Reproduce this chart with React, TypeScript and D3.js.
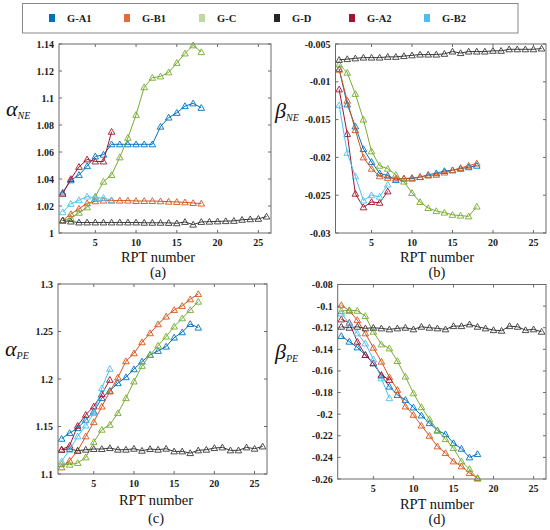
import React from 'react';
import * as d3 from 'd3';

// ---------- data ----------
const RPT = [1, 2, 3, 4, 5, 6, 7, 8, 9, 10, 11, 12, 13, 14, 15, 16, 17, 18, 19, 20, 21, 22, 23, 24, 25, 26];
const SERIES_NAMES = ['G-A1', 'G-B1', 'G-C', 'G-D', 'G-A2', 'G-B2'];
const LINE_COLORS = ['#0072BD', '#D95319', '#77AC30', '#3a3a3a', '#A2142F', '#4DBEEE'];
const LEGEND_COLORS = ['#0072BD', '#E36C3A', '#BCDBA0', '#262626', '#A2142F', '#4DBEEE'];
const X_TICKS = [5, 10, 15, 20, 25];

// (a) alpha_NE
const aNE_A1 = [1.030, 1.039, 1.043, 1.0495, 1.0567, 1.058, 1.0657, 1.0657, 1.0657, 1.0657, 1.0657, 1.0657, 1.0788, 1.0855, 1.089, 1.094, 1.096, 1.0927];
const aNE_B1 = [1.0094, 1.014, 1.018, 1.022, 1.0235, 1.024, 1.024, 1.024, 1.024, 1.0237, 1.0237, 1.0237, 1.0235, 1.0232, 1.023, 1.0227, 1.0222, 1.0218];
const aNE_C = [1.0094, 1.011, 1.015, 1.019, 1.027, 1.038, 1.043, 1.056, 1.0705, 1.0875, 1.108, 1.115, 1.116, 1.119, 1.126, 1.133, 1.139, 1.134];
const aNE_D = [1.0092, 1.0085, 1.0078, 1.0078, 1.0078, 1.0078, 1.0078, 1.0078, 1.0078, 1.0078, 1.0076, 1.0076, 1.0076, 1.0075, 1.0072, 1.0082, 1.0062, 1.0082, 1.0084, 1.0086, 1.0088, 1.009, 1.0098, 1.0102, 1.0105, 1.0122];
const aNE_A2 = [1.029, 1.040, 1.049, 1.0545, 1.053, 1.053, 1.075];
const aNE_B2 = [1.0154, 1.0216, 1.0243, 1.027, 1.026, 1.026, 1.0243];

// (b) beta_NE
const bNE_A1 = [-0.0083, -0.0130, -0.0159, -0.0189, -0.0206, -0.0221, -0.0224, -0.0230, -0.0228, -0.0228, -0.0226, -0.0223, -0.0221, -0.0218, -0.0217, -0.0215, -0.0213, -0.0211];
const bNE_B1 = [-0.0084, -0.0125, -0.0164, -0.0200, -0.0215, -0.0225, -0.0227, -0.0228, -0.0228, -0.0227, -0.0226, -0.0224, -0.0223, -0.0220, -0.0217, -0.0214, -0.0211, -0.0208];
const bNE_C = [-0.0077, -0.0088, -0.0116, -0.0150, -0.0192, -0.0211, -0.0215, -0.0223, -0.0232, -0.0247, -0.0259, -0.0267, -0.0271, -0.0273, -0.0276, -0.0277, -0.0278, -0.0265];
const bNE_D = [-0.0071, -0.0070, -0.0069, -0.0068, -0.0068, -0.0068, -0.0067, -0.0067, -0.0066, -0.0065, -0.0064, -0.0064, -0.0064, -0.0063, -0.0060, -0.0062, -0.0060, -0.0060, -0.0060, -0.0059, -0.0059, -0.0057, -0.0057, -0.0057, -0.0057, -0.0056];
const bNE_A2 = [-0.0110, -0.0169, -0.0248, -0.0266, -0.0259, -0.0260, -0.0245];
const bNE_B2 = [-0.0131, -0.0194, -0.0225, -0.0257, -0.0250, -0.0252, -0.0236];

// (c) alpha_PE
const aPE_A1 = [1.1371, 1.1431, 1.1483, 1.1571, 1.1658, 1.1799, 1.1876, 1.1956, 1.2019, 1.2103, 1.2184, 1.2254, 1.2296, 1.2341, 1.2436, 1.2492, 1.2579, 1.2541];
const aPE_B1 = [1.107, 1.114, 1.1245, 1.1396, 1.1546, 1.171, 1.1869, 1.2016, 1.2187, 1.2271, 1.2387, 1.2482, 1.2576, 1.2657, 1.2727, 1.2769, 1.2839, 1.2895];
const aPE_C = [1.1105, 1.1098, 1.1116, 1.1175, 1.1336, 1.1466, 1.1518, 1.1641, 1.1799, 1.1974, 1.2138, 1.2254, 1.2352, 1.2447, 1.2552, 1.2639, 1.2727, 1.2814];
const aPE_D = [1.1256, 1.1263, 1.1245, 1.1256, 1.1263, 1.1263, 1.1273, 1.1256, 1.1256, 1.1266, 1.1245, 1.1263, 1.1256, 1.1266, 1.1238, 1.1238, 1.122, 1.1249, 1.1256, 1.1273, 1.128, 1.1249, 1.1249, 1.128, 1.1266, 1.129];
const aPE_A2 = [1.1256, 1.1298, 1.1508, 1.1623, 1.1711, 1.1841, 1.1991];
const aPE_B2 = [1.1133, 1.1256, 1.1396, 1.1511, 1.1641, 1.1904, 1.2107];

// (d) beta_PE
const bPE_A1 = [-0.1277, -0.1329, -0.1382, -0.1452, -0.1529, -0.1643, -0.1745, -0.1822, -0.1868, -0.1938, -0.2012, -0.2083, -0.2151, -0.2185, -0.2268, -0.232, -0.24, -0.2369];
const bPE_B1 = [-0.0991, -0.1043, -0.1129, -0.1252, -0.1385, -0.1514, -0.1658, -0.1775, -0.1929, -0.2006, -0.2105, -0.22, -0.2298, -0.236, -0.2437, -0.2483, -0.2545, -0.2591];
const bPE_C = [-0.1046, -0.1037, -0.1043, -0.1092, -0.1237, -0.1354, -0.1391, -0.1508, -0.1652, -0.1806, -0.1935, -0.2046, -0.2151, -0.2231, -0.2314, -0.2437, -0.2508, -0.2597];
const bPE_D = [-0.1191, -0.12, -0.1191, -0.1206, -0.12, -0.1206, -0.1215, -0.1206, -0.12, -0.1215, -0.1191, -0.12, -0.1206, -0.1215, -0.1185, -0.1185, -0.1169, -0.1191, -0.1206, -0.1222, -0.1228, -0.1185, -0.1191, -0.1222, -0.1215, -0.1237];
const bPE_A2 = [-0.1123, -0.1154, -0.1329, -0.1452, -0.1529, -0.1637, -0.1683];
const bPE_B2 = [-0.1068, -0.116, -0.1252, -0.1345, -0.1492, -0.1668, -0.1852];

const aNE_TICKS = [1, 1.02, 1.04, 1.06, 1.08, 1.1, 1.12, 1.14];
const aNE_LABELS = ['1', '1.02', '1.04', '1.06', '1.08', '1.1', '1.12', '1.14'];
const bNE_TICKS = [-0.03, -0.025, -0.02, -0.015, -0.01, -0.005];
const bNE_LABELS = ['-0.03', '-0.025', '-0.02', '-0.015', '-0.01', '-0.005'];
const aPE_TICKS = [1.1, 1.15, 1.2, 1.25, 1.3];
const aPE_LABELS = ['1.1', '1.15', '1.2', '1.25', '1.3'];
const bPE_TICKS = [-0.26, -0.24, -0.22, -0.2, -0.18, -0.16, -0.14, -0.12, -0.1, -0.08];
const bPE_LABELS = ['-0.26', '-0.24', '-0.22', '-0.2', '-0.18', '-0.16', '-0.14', '-0.12', '-0.1', '-0.08'];

// ---------- layout ----------
const FONT = "'Liberation Serif', 'Liberation Sans', Arial, sans-serif";
const AXIS_COLOR = '#6a6a6a';

type PanelDef = {
  left: number; right: number; top: number; bottom: number;
  yDomain: [number, number]; yTicks: number[]; yLabels: string[];
  series: number[][]; sym: string; sub: string; symX: number; symY: number;
  caption: string; capX: number; xLabelY: number; capY: number;
};

const PANELS: PanelDef[] = [
  { left: 59, right: 271, top: 44, bottom: 233, yDomain: [1, 1.14], yTicks: aNE_TICKS, yLabels: aNE_LABELS,
    series: [aNE_A1, aNE_B1, aNE_C, aNE_D, aNE_A2, aNE_B2], sym: 'α', sub: 'NE', symX: 6, symY: 116,
    caption: '(a)', capX: 158, xLabelY: 262, capY: 277 },
  { left: 335.5, right: 546, top: 44, bottom: 233, yDomain: [-0.03, -0.005], yTicks: bNE_TICKS, yLabels: bNE_LABELS,
    series: [bNE_A1, bNE_B1, bNE_C, bNE_D, bNE_A2, bNE_B2], sym: 'β', sub: 'NE', symX: 275, symY: 118,
    caption: '(b)', capX: 437, xLabelY: 262, capY: 277 },
  { left: 58, right: 267, top: 284, bottom: 474, yDomain: [1.1, 1.3], yTicks: aPE_TICKS, yLabels: aPE_LABELS,
    series: [aPE_A1, aPE_B1, aPE_C, aPE_D, aPE_A2, aPE_B2], sym: 'α', sub: 'PE', symX: 5, symY: 356,
    caption: '(c)', capX: 156, xLabelY: 505, capY: 523 },
  { left: 337.7, right: 546, top: 284.5, bottom: 479, yDomain: [-0.26, -0.08], yTicks: bPE_TICKS, yLabels: bPE_LABELS,
    series: [bPE_A1, bPE_B1, bPE_C, bPE_D, bPE_A2, bPE_B2], sym: 'β', sub: 'PE', symX: 275, symY: 359,
    caption: '(d)', capX: 437, xLabelY: 509, capY: 524 },
];

const TRI = 'M0,-3.3L3.3,2.5L-3.3,2.5Z';

function Panel({ p }: { p: PanelDef }) {
  const x = d3.scaleLinear().domain([0.55, 26.55]).range([p.left, p.right]);
  const y = d3.scaleLinear().domain(p.yDomain).range([p.bottom, p.top]);
  const line = d3.line<number>().x((_, i) => x(RPT[i])).y(d => y(d));
  const tl = 3;
  const tickStyle = { fontFamily: FONT, fontWeight: 'bold' as const, fontSize: 10 };
  return (
    <g>
      {p.series.map((s, si) => (
        <g key={si}>
          <path d={line(s) || ''} fill="none" stroke={LINE_COLORS[si]} strokeWidth={1} />
          {s.map((v, i) => (
            <path key={i} d={TRI} transform={`translate(${x(RPT[i])},${y(v)})`} fill="none"
              stroke={LINE_COLORS[si]} strokeWidth={0.9} />
          ))}
        </g>
      ))}
      <rect x={p.left} y={p.top} width={p.right - p.left} height={p.bottom - p.top} fill="none" stroke={AXIS_COLOR} strokeWidth={1} />
      {X_TICKS.map(t => (
        <g key={t}>
          <line x1={x(t)} x2={x(t)} y1={p.bottom} y2={p.bottom - tl} stroke={AXIS_COLOR} />
          <line x1={x(t)} x2={x(t)} y1={p.top} y2={p.top + tl} stroke={AXIS_COLOR} />
          <text x={x(t)} y={p.bottom + 13} textAnchor="middle" style={tickStyle} fill="#1a1a1a">{t}</text>
        </g>
      ))}
      {p.yTicks.map((t, i) => (
        <g key={i}>
          <line x1={p.left} x2={p.left + tl} y1={y(t)} y2={y(t)} stroke={AXIS_COLOR} />
          <line x1={p.right} x2={p.right - tl} y1={y(t)} y2={y(t)} stroke={AXIS_COLOR} />
          <text x={p.left - 5} y={y(t) + 3.5} textAnchor="end" style={tickStyle} fill="#1a1a1a">{p.yLabels[i]}</text>
        </g>
      ))}
      <text x={p.symX} y={p.symY} style={{ fontFamily: FONT, fontStyle: 'italic', fontSize: 22 }} fill="#111">
        {p.sym}
        <tspan style={{ fontSize: 10 }} dy={3}>{p.sub}</tspan>
      </text>
      <text x={p.capX} y={p.xLabelY} textAnchor="middle" style={{ fontFamily: FONT, fontSize: 14.5 }} fill="#111">RPT number</text>
      <text x={p.capX} y={p.capY} textAnchor="middle" style={{ fontFamily: FONT, fontSize: 14.5 }} fill="#111">{p.caption}</text>
    </g>
  );
}

const LEGEND_X = [49, 124, 199, 274, 349, 424];

export default function App() {
  return (
    <svg width={550} height={530} style={{ position: 'absolute', left: 0, top: 0, background: '#fff' }}>
      <rect x={0} y={0} width={550} height={530} fill="#fff" />
      <rect x={22.5} y={3.5} width={495.5} height={29.5} fill="#fff" stroke="#8a8a8a" strokeWidth={1} />
      {SERIES_NAMES.map((n, i) => (
        <g key={n}>
          <rect x={LEGEND_X[i]} y={14} width={6} height={8} fill={LEGEND_COLORS[i]} />
          <text x={LEGEND_X[i] + 18} y={22} style={{ fontFamily: FONT, fontWeight: 'bold', fontSize: 10.5 }} fill="#1a1a1a">{n}</text>
        </g>
      ))}
      {PANELS.map((p, i) => <Panel key={i} p={p} />)}
    </svg>
  );
}
